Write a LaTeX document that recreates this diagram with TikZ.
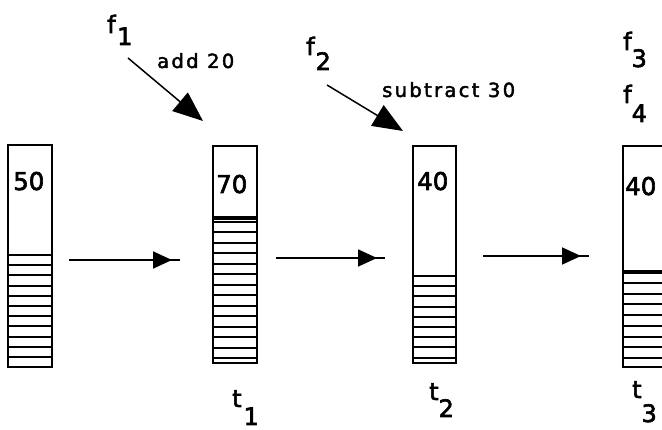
\documentclass[tikz,border=0pt]{standalone}
\usepackage{fontspec}
\setmainfont{DejaVu Sans}
\newfontfamily\heavy[FakeBold=2.5]{DejaVu Sans}
\newfontfamily\widefont[LetterSpace=12,FakeBold=2.2]{DejaVu Sans}
\usetikzlibrary{arrows.meta,calc,decorations.markings}
\begin{document}
\begin{tikzpicture}[x=1pt,y=-1pt,
  bar/.style={draw, line width=2.2pt, inner sep=0pt, outer sep=0pt},
  hatch/.style={line width=2pt},
  topline/.style={line width=3.4pt},
  num/.style={inner sep=0pt, anchor=base west, font=\heavy\fontsize{24.5}{26}\selectfont},
  lab/.style={inner sep=0pt, anchor=base west, font=\heavy\fontsize{24}{26}\selectfont},
  op/.style={inner sep=0pt, anchor=base west, font=\widefont\fontsize{19.5}{21}\selectfont},
  harrow/.style={line width=1.8pt, postaction={decorate},
    decoration={markings, mark=at position -8pt with {\arrow{Triangle[length=19pt,width=17pt]}}}},
  darrow/.style={line width=1.5pt, -{Triangle[length=30pt,width=24pt]}}
]
\useasboundingbox (0,0) rectangle (662,430);
\clip (0,0) rectangle (662,430);
\fill[white] (0,0) rectangle (662,430);

% bars
\node[bar, minimum width=44pt, minimum height=222pt] (b1) at (30,256) {};
\foreach \y in {255,265,275,286,296,306,316,326,337,347,357}
  \draw[hatch] (8,\y) -- (52,\y);

\node[bar, minimum width=44pt, minimum height=217pt] (b2) at (235,254.5) {};
\draw[topline] (213,218) -- (257,218);
\foreach \y in {222,232,243,253,264,274,285,295,306,316,327,337,348,358}
  \draw[hatch] (213,\y) -- (257,\y);

\node[bar, minimum width=43pt, minimum height=217pt] (b3) at (434.5,254.5) {};
\foreach \y in {276,286,296,307,317,327,337,347,358}
  \draw[hatch] (413,\y) -- (456,\y);

\node[bar, minimum width=44pt, minimum height=221pt] (b4) at (645,256.5) {};
\draw[topline] (623,272) -- (667,272);
\foreach \y in {283,294,304,315,326,337,347,358}
  \draw[hatch] (623,\y) -- (667,\y);

% numbers
\node[num] (n1) at (13,190) {50};
\node[num] (n2) at (216,193) {70};
\node[num] (n3) at (417,190) {40};
\node[num] (n4) at (625,195) {40};

% labels
\node[lab] (f1) at (107,33) {f\kern1.5pt\raisebox{-12pt}{1}};
\node[lab] (f2) at (306,55) {f\kern1pt\raisebox{-15pt}{2}};
\node[lab] (f3) at (623,50) {f\raisebox{-17pt}{3}};
\node[lab] (f4) at (623,103) {f\raisebox{-19pt}{4}};
\node[lab] (t1) at (232,407) {t\kern2pt\raisebox{-18pt}{1}};
\node[lab] (t2) at (429,400) {t\raisebox{-17pt}{2}};
\node[lab] (t3) at (632,398) {t\raisebox{-24pt}{3}};

\node[op] (o1) at (157,68) {add 20};
\node[op] (o2) at (382,97) {subtract 30};

% horizontal arrows
\draw[harrow] ($(b1.east)+(17,4)$) -- ($(b2.west)+(-33,5.5)$);
\draw[harrow] ($(b2.east)+(19,3.5)$) -- ($(b3.west)+(-28,3.5)$);
\draw[harrow] ($(b3.east)+(27,1.5)$) -- ($(b4.west)+(-34,-0.5)$);

% diagonal arrows
\coordinate (h1) at (203,121);
\coordinate (h2) at (403,131);
\draw[darrow] ($(f1.base west)+(21,25)$) -- (h1);
\draw[darrow] ($(f2.base west)+(21,30)$) -- (h2);
\end{tikzpicture}
\end{document}
